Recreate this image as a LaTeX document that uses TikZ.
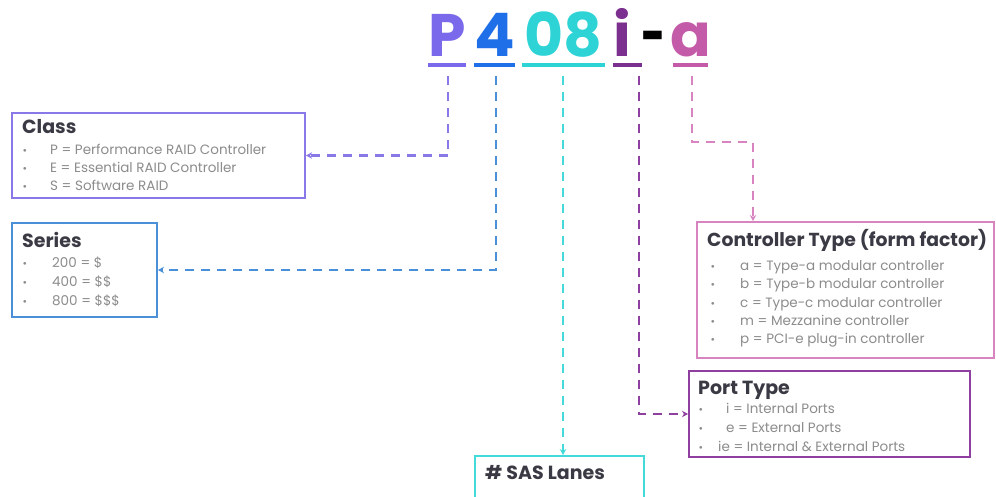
\documentclass[tikz,border=0pt]{standalone}
\usepackage{fontspec}
\setmainfont{Poppins}
\usetikzlibrary{arrows.meta}
\definecolor{cP}{HTML}{7A6AEB}
\definecolor{cFour}{HTML}{1E6FE8}
\definecolor{cEight}{HTML}{2ED3D6}
\definecolor{cI}{HTML}{7B2F8F}
\definecolor{cA}{HTML}{C45BA8}
\definecolor{bClass}{HTML}{8878E8}
\definecolor{bSeries}{HTML}{4A90D9}
\definecolor{bCtl}{HTML}{D884C0}
\definecolor{bPort}{HTML}{8E3FA0}
\definecolor{bSas}{HTML}{45DADA}
\definecolor{ttl}{HTML}{3A3A44}
\definecolor{txt}{HTML}{8C8C8C}
\tikzset{
  glyph/.style={inner sep=0pt, anchor=base, font=\fontsize{60}{60}\selectfont\bfseries},
  uline/.style={line width=4pt},
  box/.style={draw, line width=2pt, rectangle, inner sep=0pt},
  boxtitle/.style={anchor=base west, inner sep=0pt, text=ttl, font=\fontsize{19}{20}\selectfont\bfseries},
  item/.style={anchor=base west, inner sep=0pt, text=txt, font=\fontsize{13.5}{14}\selectfont},
  dot/.style={anchor=base, inner sep=0pt, text=txt, font=\fontsize{11}{12}\selectfont},
  link/.style={line width=2.5pt, dash pattern=on 9pt off 7pt, -{Stealth[length=6pt,width=6.5pt]}},
}
\begin{document}
\begin{tikzpicture}[x=1pt,y=-1pt]
\useasboundingbox[fill=white] (0,0) rectangle (996,497);
% title glyphs
\node[glyph, text=cP] (gP) at (447,57) {P};
\node[glyph, text=cFour] (g4) at (494.5,57) {4};
\node[glyph, text=cEight] (g08) at (563.5,57) {08};
\node[glyph, text=cI] (gi) at (622.5,57) {i};
\node[glyph, text=black] (gdash) at (654,57) {\scalebox{0.7}[1]{-}};
\node[glyph, text=cA] (ga) at (690.5,57) {a};
\draw[uline, cP] (428,65) -- (466,65);
\draw[uline, cFour] (474,65) -- (515,65);
\draw[uline, cEight] (522,65) -- (605,65);
\draw[uline, cI] (613,65) -- (642,65);
\draw[uline, cA] (673,65) -- (708,65);
% start coordinates
\coordinate (sP) at (448,76);
\coordinate (s4) at (496,76);
\coordinate (s08) at (563,76);
\coordinate (si) at (639,76);
\coordinate (sa) at (692,76);
\coordinate (acorner) at (753,142);
% boxes
\node[box, draw=bClass, minimum width=293pt, minimum height=85pt] (cls) at (158.5,155.5) {};
\node[box, draw=bSeries, minimum width=145pt, minimum height=94pt] (ser) at (84.5,270) {};
\node[box, draw=bCtl, minimum width=297pt, minimum height=136pt] (ctl) at (845.5,290) {};
\node[box, draw=bPort, minimum width=281pt, minimum height=86pt] (port) at (829.5,414) {};
\node[box, draw=bSas, minimum width=169pt, minimum height=80pt] (sas) at (559.5,496) {};
% Class
\node[boxtitle] (clsT) at (22,134) {Class};
\node[dot] (cb1) at (25,155) {•}; \node[item] (c1) at (50,155) {P = Performance RAID Controller};
\node[dot] (cb2) at (25,173) {•}; \node[item] (c2) at (50,173) {E = Essential RAID Controller};
\node[dot] (cb3) at (25,191) {•}; \node[item] (c3) at (50,191) {S = Software RAID};
% Series
\node[boxtitle] (serT) at (22,247.5) {Series};
\node[dot] (sb1) at (25,268) {•}; \node[item] (s1) at (52,268) {200 = \$};
\node[dot] (sb2) at (25,287) {•}; \node[item] (s2) at (52,287) {400 = \$\$};
\node[dot] (sb3) at (25,305) {•}; \node[item] (s3) at (52,305) {800 = \$\$\$};
% Controller
\node[boxtitle, font=\fontsize{18.8}{20}\selectfont\bfseries] (ctlT) at (707,247) {Controller Type (form factor)};
\node[dot] (kb1) at (713,270) {•}; \node[item] (k1) at (740,270) {a = Type-a modular controller};
\node[dot] (kb2) at (713,288) {•}; \node[item] (k2) at (740,288) {b = Type-b modular controller};
\node[dot] (kb3) at (713,307) {•}; \node[item] (k3) at (740,307) {c = Type-c modular controller};
\node[dot] (kb4) at (713,325) {•}; \node[item] (k4) at (740,325) {m = Mezzanine controller};
\node[dot] (kb5) at (713,343) {•}; \node[item] (k5) at (740,343) {p = PCI-e plug-in controller};
% Port
\node[boxtitle] (portT) at (698,394) {Port Type};
\node[dot] (pb1) at (701,413) {•}; \node[item] (p1) at (726,413) {i = Internal Ports};
\node[dot] (pb2) at (701,432) {•}; \node[item] (p2) at (726,432) {e = External Ports};
\node[dot] (pb3) at (701,451) {•}; \node[item] (p3) at (718,451) {ie = Internal \& External Ports};
% SAS
\node[boxtitle] (sasT) at (485,479) {\# SAS Lanes};
% connectors
\draw[link, draw=bClass] (sP) |- (cls.east);
\draw[link, draw=bSeries] (s4) |- (ser.east);
\draw[link, draw=bSas] (s08) -- (s08 |- sas.north);
\draw[link, draw=bPort] (si) |- (port.west);
\draw[link, draw=bCtl] (sa) |- (acorner) -- (acorner |- ctl.north);
\end{tikzpicture}
\end{document}
